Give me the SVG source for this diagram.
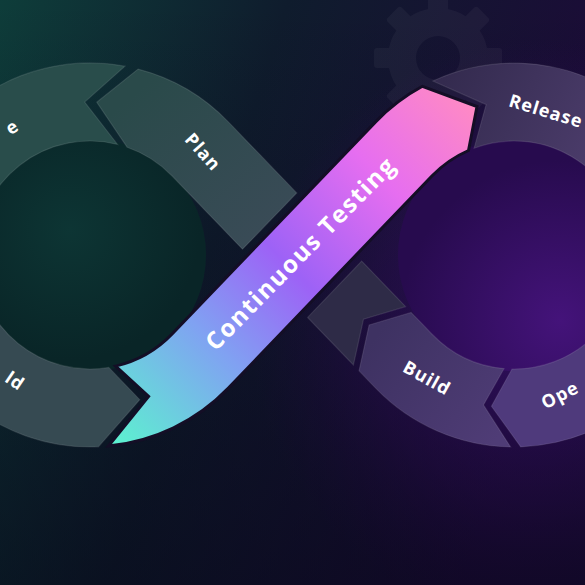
<svg xmlns="http://www.w3.org/2000/svg" width="585" height="585" viewBox="0 0 585 585">
<defs>
  <linearGradient id="bg" x1="0" y1="0" x2="585" y2="180" gradientUnits="userSpaceOnUse">
    <stop offset="0" stop-color="#0e3d3a"/>
    <stop offset="0.45" stop-color="#0f1c2d"/>
    <stop offset="1" stop-color="#1c0b38"/>
  </linearGradient>
  <linearGradient id="shade" x1="0" y1="0" x2="0" y2="1">
    <stop offset="0" stop-color="#050514" stop-opacity="0"/>
    <stop offset="1" stop-color="#050514" stop-opacity="0.5"/>
  </linearGradient>
  <radialGradient id="glowP" cx="540" cy="330" r="290" gradientUnits="userSpaceOnUse">
    <stop offset="0" stop-color="#4d1590" stop-opacity="0.9"/>
    <stop offset="0.6" stop-color="#3a0f6a" stop-opacity="0.45"/>
    <stop offset="1" stop-color="#2a0b50" stop-opacity="0"/>
  </radialGradient>
  <radialGradient id="holeL" cx="70" cy="230" r="130" gradientUnits="userSpaceOnUse">
    <stop offset="0" stop-color="#0d3534"/>
    <stop offset="1" stop-color="#092527"/>
  </radialGradient>
  <radialGradient id="holeR" cx="560" cy="320" r="160" gradientUnits="userSpaceOnUse">
    <stop offset="0" stop-color="#44137a"/>
    <stop offset="1" stop-color="#270b4e"/>
  </radialGradient>
  <linearGradient id="ribbon" x1="115" y1="440" x2="465" y2="95" gradientUnits="userSpaceOnUse">
    <stop offset="0" stop-color="#5df0d0"/>
    <stop offset="0.28" stop-color="#80a2f2"/>
    <stop offset="0.5" stop-color="#9d62f6"/>
    <stop offset="0.76" stop-color="#e66ef0"/>
    <stop offset="1" stop-color="#ff8ac4"/>
  </linearGradient>
  <linearGradient id="gPlan" x1="150" y1="80" x2="280" y2="230" gradientUnits="userSpaceOnUse">
    <stop offset="0" stop-color="#2a4a4a"/>
    <stop offset="1" stop-color="#3a4b57"/>
  </linearGradient>
  <linearGradient id="gRel" x1="440" y1="90" x2="585" y2="160" gradientUnits="userSpaceOnUse">
    <stop offset="0" stop-color="#342b4f"/>
    <stop offset="1" stop-color="#4a3b69"/>
  </linearGradient>
  <linearGradient id="gBuild" x1="380" y1="330" x2="510" y2="420" gradientUnits="userSpaceOnUse">
    <stop offset="0" stop-color="#3e3262"/>
    <stop offset="1" stop-color="#4f3c76"/>
  </linearGradient>
  <style>
    .seg { stroke: #ffffff; stroke-opacity: 0.1; stroke-width: 1.2; }
    .lbl { fill: #ffffff; font-family: "Open Sans", "Liberation Sans", sans-serif; font-weight: 700; font-size: 18px; letter-spacing: 1px; text-anchor: middle; }
    .big { fill: #ffffff; font-family: "Open Sans", "Liberation Sans", sans-serif; font-weight: 700; font-size: 24px; text-anchor: middle; }
  </style>
</defs>

<!-- background -->
<rect width="585" height="585" fill="url(#bg)"/>
<rect width="585" height="585" fill="url(#glowP)"/>
<rect width="585" height="585" fill="url(#shade)"/>
<circle cx="90" cy="255" r="116" fill="url(#holeL)"/>
<circle cx="514" cy="255" r="116" fill="url(#holeR)"/>

<!-- faint gear -->
<g id="gear" opacity="0.035" fill="#ffffff" transform="translate(438,58)">
  <path fill-rule="evenodd" d="M0,-50 A50,50 0 1 1 0,50 A50,50 0 1 1 0,-50 Z M0,-22 A22,22 0 1 0 0,22 A22,22 0 1 0 0,-22 Z"/>
  <rect x="-10" y="-64" width="20" height="18" rx="3"/>
  <rect x="-10" y="-64" width="20" height="18" rx="3" transform="rotate(45)"/>
  <rect x="-10" y="-64" width="20" height="18" rx="3" transform="rotate(90)"/>
  <rect x="-10" y="-64" width="20" height="18" rx="3" transform="rotate(135)"/>
  <rect x="-10" y="-64" width="20" height="18" rx="3" transform="rotate(180)"/>
  <rect x="-10" y="-64" width="20" height="18" rx="3" transform="rotate(225)"/>
  <rect x="-10" y="-64" width="20" height="18" rx="3" transform="rotate(270)"/>
  <rect x="-10" y="-64" width="20" height="18" rx="3" transform="rotate(315)"/>
</g>

<g id="connectors"></g>

<!-- left loop -->
<g id="node-code">
  <path class="seg" fill="#294d4b" d="M125,66.2 A192,192 0 0 0 -102,255 L-24,255 A114,114 0 0 1 117.6,144.4 L84.7,102.1 Z"/>
  <text class="lbl" transform="translate(12,127) rotate(-34)" dy="0.35em">e</text>
</g>
<g id="node-plan">
  <path class="seg" fill="url(#gPlan)" d="M242.5,249.2 L296.8,192.9 L228.4,121.9 A192,192 0 0 0 138.1,69.1 L96.7,102.2 L127.1,147.2 A114,114 0 0 1 172.1,176 Z"/>
  <text class="lbl" transform="translate(203,152) rotate(48)" dy="0.35em">Plan</text>
</g>
<g id="node-build-left">
  <path class="seg" fill="#364a52" d="M-101.9,261.7 A192,192 0 0 0 98.4,446.8 L139.8,399.7 L108.8,367.4 A114,114 0 0 1 -23.9,259 Z"/>
  <text class="lbl" transform="translate(15,381) rotate(34)" dy="0.35em">ld</text>
</g>

<!-- right loop -->
<g id="node-release">
  <path class="seg" fill="url(#gRel)" d="M432.9,81 A192,192 0 0 1 705.9,248.3 L627.9,251 A114,114 0 0 0 474.1,148.2 L486.1,104.6 Z"/>
  <text class="lbl" transform="translate(546,111) rotate(17)" dy="0.35em">Release</text>
</g>
<g id="node-operate">
  <path class="seg" fill="#4f3a7c" d="M705.9,261.7 A192,192 0 0 1 520.7,446.9 L491.4,406.3 L512,369 A114,114 0 0 0 627.9,259 Z"/>
  <text class="lbl" transform="translate(560,395) rotate(-27)" dy="0.35em">Ope</text>
</g>
<g id="node-build">
  <path class="seg" fill="url(#gBuild)" d="M510.6,447 A192,192 0 0 1 375.6,388.1 L359,370.8 L369.1,325 L411.1,312.4 L431.9,334 A114,114 0 0 0 504.1,368.6 L483.5,404.9 Z"/>
  <text class="lbl" transform="translate(427,378) rotate(29)" dy="0.35em">Build</text>
</g>
<g id="node-arm">
  <path class="seg" fill="#2e2b47" d="M361.7,261.1 L405.6,306.6 L363.5,319.3 L353.4,365 L307.6,317.4 Z"/>
</g>

<!-- continuous testing ribbon -->
<g id="node-testing">
  <path fill="url(#ribbon)" stroke="#140e26" stroke-width="3" stroke-linejoin="miter" d="M115.6,366.1 L148.6,396.4 L108.4,446.1 A192,192 0 0 0 228.4,388.1 L431.9,176 A114,114 0 0 1 468.5,150.5 L477,106.5 L422.4,86.3 A192,192 0 0 0 375.6,121.9 L172.1,334 A114,114 0 0 1 115.6,366.1 Z"/>
  <text class="big" transform="translate(300,254) rotate(-45.5)" dy="0.35em" textLength="258" lengthAdjust="spacing">Continuous Testing</text>
</g>
</svg>
